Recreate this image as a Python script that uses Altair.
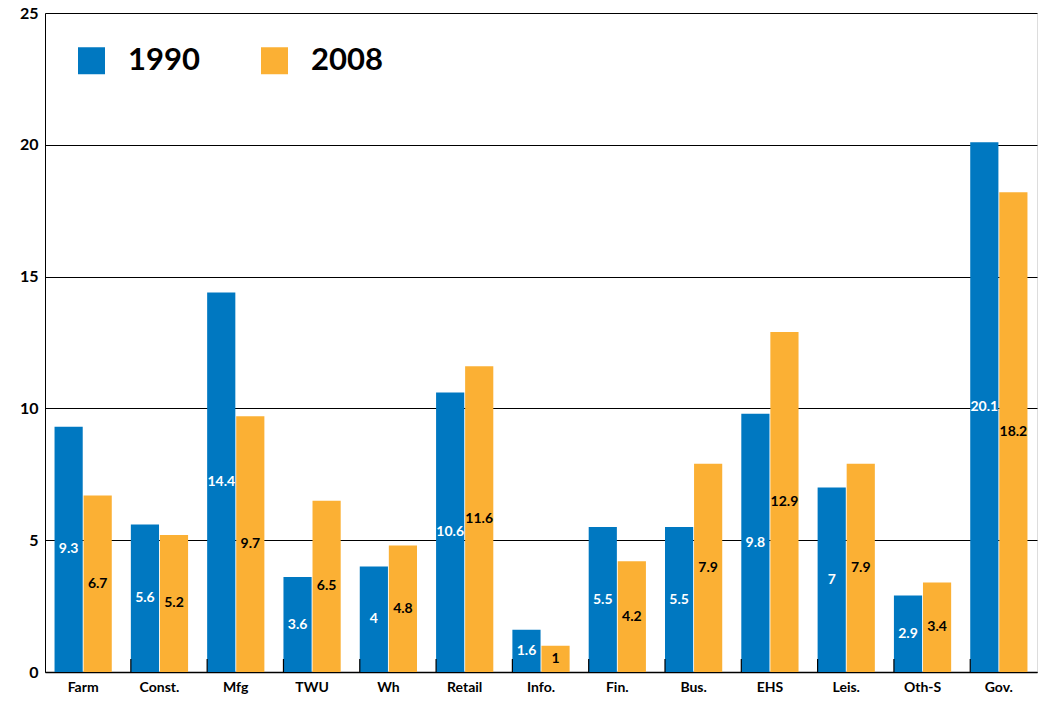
import altair as alt
import pandas as pd

categories = ["Farm", "Const.", "Mfg", "TWU", "Wh", "Retail", "Info.", "Fin.", "Bus.", "EHS", "Leis.", "Oth-S", "Gov."]
v1990 = [9.3, 5.6, 14.4, 3.6, 4, 10.6, 1.6, 5.5, 5.5, 9.8, 7, 2.9, 20.1]
v2008 = [6.7, 5.2, 9.7, 6.5, 4.8, 11.6, 1, 4.2, 7.9, 12.9, 7.9, 3.4, 18.2]
years = ["1990", "2008"]
colors = ["#0078C1", "#FBB034"]
label_colors = ["#FFFFFF", "#000000"]

rows = []
for i, c in enumerate(categories):
    rows.append({"cat": c, "year": "1990", "value": v1990[i]})
    rows.append({"cat": c, "year": "2008", "value": v2008[i]})
df = pd.DataFrame(rows)

FONT = "Lato"

xenc = alt.X("cat:N", sort=categories, title=None,
             scale=alt.Scale(paddingInner=0.25, paddingOuter=0.125),
             axis=alt.Axis(labelAngle=0, labelFont=FONT, labelFontWeight="bold",
                           labelFontSize=14, labelColor="black", labelPadding=8,
                           ticks=False, domainColor="black", domainWidth=1.5))
yenc = alt.Y("value:Q", title=None,
             scale=alt.Scale(domain=[0, 25], nice=False),
             axis=alt.Axis(values=[0, 5, 10, 15, 20, 25], labelFont=FONT,
                           labelFontWeight="bold", labelFontSize=16, labelColor="black",
                           labelPadding=7, ticks=False, domainColor="black",
                           gridColor="black", gridWidth=1, gridOpacity=1))

base = alt.Chart(df)

bars = base.mark_bar().encode(
    x=xenc,
    y=yenc,
    xOffset=alt.XOffset("year:N", scale=alt.Scale(paddingInner=0.03)),
    color=alt.Color("year:N", scale=alt.Scale(domain=years, range=colors),
                    legend=alt.Legend(title=None, orient="none", legendX=31, legendY=32,
                                      direction="horizontal", symbolType="square",
                                      symbolSize=729, symbolStrokeWidth=0, symbolOpacity=1,
                                      labelFont=FONT, labelFontWeight="bold",
                                      labelFontSize=31, labelColor="black",
                                      labelOffset=21, columnPadding=59, labelLimit=300)),
)

labels = base.transform_calculate(mid="datum.value / 2").mark_text(
    font=FONT, fontWeight="bold", fontSize=14
).encode(
    x=alt.X("cat:N", sort=categories),
    xOffset=alt.XOffset("year:N"),
    y=alt.Y("mid:Q"),
    text=alt.Text("value:Q"),
    color=alt.Color("year:N", scale=alt.Scale(domain=years, range=label_colors), legend=None),
)

ticks_df = pd.DataFrame({"cat": categories[1:]})
ticks = alt.Chart(ticks_df).mark_rule(color="black", strokeWidth=1.2).encode(
    x=alt.X("cat:N", sort=categories, bandPosition=0),
    y=alt.value(659),
    y2=alt.value(646),
)

chart = alt.layer(bars, labels, ticks).resolve_scale(color="independent").properties(
    width=992, height=659,
    autosize=alt.AutoSizeParams(type="none"),
    padding={"left": 45, "top": 13, "right": 2, "bottom": 35},
).configure_view(stroke="black", strokeWidth=1.5).configure(background="white")

chart.save("out.html", embed_options={"renderer": "svg", "actions": False})
